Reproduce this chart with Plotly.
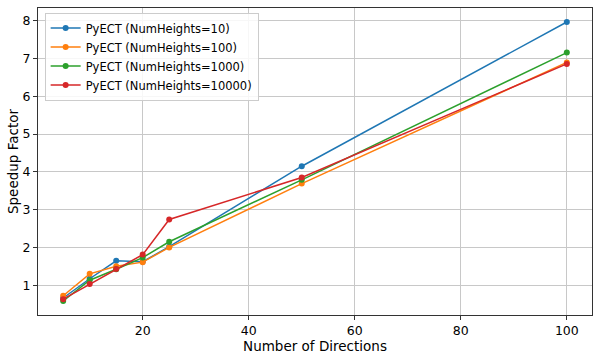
import plotly.graph_objects as go

directions = [5, 10, 15, 20, 25, 50, 100]
series_names = ["PyECT (NumHeights=10)", "PyECT (NumHeights=100)",
                "PyECT (NumHeights=1000)", "PyECT (NumHeights=10000)"]
speedup_10 = [0.66, 1.17, 1.645, 1.62, 2.02, 4.15, 7.97]
speedup_100 = [0.72, 1.30, 1.50, 1.61, 2.00, 3.69, 6.90]
speedup_1000 = [0.58, 1.13, 1.42, 1.73, 2.15, 3.79, 7.16]
speedup_10000 = [0.63, 1.03, 1.43, 1.81, 2.74, 3.85, 6.86]
colors = ["#1f77b4", "#ff7f0e", "#2ca02c", "#d62728"]
x_ticks = [20, 40, 60, 80, 100]
y_ticks = [1, 2, 3, 4, 5, 6, 7, 8]

fig = go.Figure()
for name, vals, c in zip(series_names,
                         [speedup_10, speedup_100, speedup_1000, speedup_10000],
                         colors):
    fig.add_trace(go.Scatter(x=directions, y=vals, mode="lines+markers", name=name,
                             line=dict(color=c, width=1.5),
                             marker=dict(color=c, size=6)))

axis_common = dict(showline=True, linecolor="#333333", linewidth=1, mirror=True,
                   showgrid=True, gridcolor="#c8c8c8", gridwidth=1,
                   ticks="outside", ticklen=4, tickcolor="#333333",
                   zeroline=False, automargin=False,
                   tickfont=dict(size=12.5, color="black"))
fig.update_xaxes(range=[0.25, 104.75], tickvals=x_ticks,
                 title=dict(text="Number of Directions", font=dict(size=13.5, color="black"),
                            standoff=0), **axis_common)
fig.update_yaxes(range=[0.21, 8.34], tickvals=y_ticks,
                 title=dict(text="Speedup Factor", font=dict(size=13.5, color="black"),
                            standoff=0), **axis_common)

fig.update_layout(
    width=595, height=357,
    margin=dict(l=38, r=3, t=8, b=42),
    plot_bgcolor="white", paper_bgcolor="white",
    font=dict(family="DejaVu Sans", color="black"),
    legend=dict(x=0.012, y=0.985, xanchor="left", yanchor="top",
                bgcolor="rgba(255,255,255,0.85)", bordercolor="#cccccc", borderwidth=1,
                font=dict(size=11.5), tracegroupgap=0, itemwidth=30),
)

fig.write_html("out.html", config={"displayModeBar": False},
               post_script="document.body.style.margin='0px';")
